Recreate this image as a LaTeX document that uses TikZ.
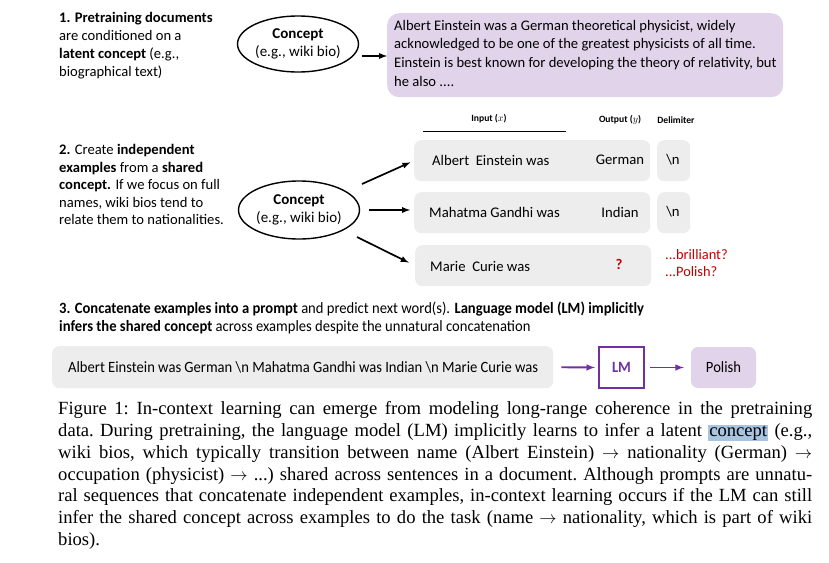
\documentclass[tikz,border=0pt]{standalone}
\usepackage{fontspec}
\setmainfont{Carlito}
\newfontfamily\narrowfont[FakeStretch=0.93]{Carlito}
\newfontfamily\capfont{Liberation Serif}
\usetikzlibrary{shapes.geometric}
\definecolor{lmpurple}{HTML}{7030A0}
\definecolor{biopurple}{HTML}{E1D3EA}
\definecolor{boxgray}{HTML}{EDEDED}
\definecolor{qred}{HTML}{C00000}
\definecolor{markblue}{HTML}{A8C4DF}

\begin{document}
\begin{tikzpicture}[x=1pt,y=-1pt,
	txt/.style={anchor=north west, inner sep=0, align=left, font=\fontsize{14.6}{18}\selectfont},
	concept/.style={draw, ellipse, line width=1.4pt, inner sep=0, align=center, font=\fontsize{15}{17.5}\selectfont},
	graybox/.style={fill=boxgray, rounded corners=7, anchor=north west, minimum height=41, inner sep=0},
	rowtxt/.style={inner sep=0, font=\fontsize{14.7}{17}\selectfont},
	head/.style={inner sep=0, font=\bfseries\fontsize{9.6}{11}\selectfont},
	arr/.style={-latex, line width=1.7pt},
	parr/.style={-latex, line width=1.9pt, draw=lmpurple, color=lmpurple},
	]
		\useasboundingbox (0,0) rectangle (829,562);
		
		% 1. pretraining documents
		\node[txt] (step1) at (59,12) {\textbf{1. Pretraining documents}\\ are conditioned on a\\ \textbf{latent concept} (e.g.,\\ biographical text)};
		\node[concept, minimum width=116, minimum height=56] (concept1) at (298,44) {\textbf{Concept}\\ (e.g., wiki bio)};
		\node[fill=biopurple, rounded corners=12, anchor=north west, minimum width=396, minimum height=84] (bio) at (387,13) {};
		\node[txt, font=\fontsize{14.6}{18.6}\selectfont] (biotxt) at (394,20) {Albert Einstein was a German theoretical physicist, widely\\ acknowledged to be one of the greatest physicists of all time.\\ Einstein is best known for developing the theory of relativity, but\\ he also ....};
		\coordinate (t1) at (362,56);
		\draw[arr] (t1) -- (bio.west |- t1);
		
		% 2. independent examples
		\node[txt, font=\fontsize{14.6}{17.6}\selectfont] (step2) at (59,144) {\textbf{2.} Create \textbf{independent}\\ \textbf{examples} from a \textbf{shared}\\ \textbf{concept.} If we focus on full\\ names, wiki bios tend to\\ relate them to nationalities.};
		\node[concept, minimum width=112, minimum height=58] (concept2) at (299,210) {\textbf{Concept}\\ (e.g., wiki bio)};
		
		\node[head] (inhead) at (489,119) {Input ($x$)};
		\node[head] (outhead) at (620,120) {Output ($y$)};
		\node[head] (delhead) at (676,120) {Delimiter};
		\draw[line width=0.6pt] (423,131) -- (566,131);
		
		\node[graybox, minimum width=236] (row1) at (414,140) {};
		\node[graybox, minimum width=236] (row2) at (414,192) {};
		\node[graybox, minimum width=236] (row3) at (415,245) {};
		\node[graybox, minimum width=33] (delim1) at (657,140) {};
		\node[graybox, minimum width=33] (delim2) at (657,192) {};
		
		\node[rowtxt, anchor=west] (in1) at (432,160) {Albert\ \ Einstein was};
		\node[rowtxt, anchor=west] (in2) at (429,212) {Mahatma Gandhi was};
		\node[rowtxt, anchor=west] (in3) at (430,266) {Marie\ \ Curie was};
		\node[rowtxt] (out1) at (620,160) {German};
		\node[rowtxt] (out2) at (620,212) {Indian};
		\node[rowtxt, text=qred, font=\bfseries\fontsize{14.7}{17}\selectfont] (out3) at (619,264) {?};
		\node[rowtxt] (nl1) at (673,160) {\textbackslash n};
		\node[rowtxt] (nl2) at (673,212) {\textbackslash n};
		\node[rowtxt, anchor=north west, align=left, text=qred, font=\fontsize{14.4}{17}\selectfont] (guess) at (665,249) {...brilliant?\\ ...Polish?};
		
		\coordinate (a1) at (362,184);
		\coordinate (a3) at (357,237);
		\draw[arr, shorten >=4pt] (a1) -- (row1.west);
		\draw[arr, shorten <=9pt, shorten >=4pt] (concept2.east) -- (row2.west |- concept2.east);
		\draw[arr, shorten >=7pt] (a3) -- (row3.west);
		
		% 3. prompt
		\node[txt, font=\narrowfont\fontsize{15.7}{18}\selectfont] (step3) at (59,302) {\textbf{3. Concatenate examples into a prompt} and predict next word(s). \textbf{Language model (LM) implicitly}\\ \textbf{infers the shared concept} across examples despite the unnatural concatenation};
		\node[graybox, minimum width=501, minimum height=42] (prompt) at (52,346) {};
		\node[rowtxt, anchor=west, font=\narrowfont\fontsize{15.7}{17}\selectfont] (prompttxt) at (68,367) {Albert Einstein was German \textbackslash n Mahatma Gandhi was Indian \textbackslash n Marie Curie was};
		\node[draw=lmpurple, line width=2pt, minimum width=45, minimum height=41, inner sep=0, text=lmpurple, font=\narrowfont\bfseries\fontsize{15.7}{17}\selectfont] (lm) at (621.5,367.5) {LM};
		\node[fill=biopurple, rounded corners=7, minimum width=65, minimum height=41, inner sep=0, font=\narrowfont\fontsize{15.7}{17}\selectfont] (polish) at (723.5,367.5) {Polish};
		\draw[parr, shorten <=8pt, shorten >=3pt] (prompt.east) -- (lm.west);
		\draw[parr, shorten <=5pt, shorten >=7pt] (lm.east) -- (polish.west);
		
		% caption
		\node[anchor=north west, inner sep=0, text width=754, align=justify, font=\capfont\fontsize{18.6}{21.9}\selectfont] (caption) at (58,401) {\frenchspacing Figure 1: In-context learning can emerge from modeling long-range coherence in the pretraining\linebreak data. During pretraining, the language model (LM) implicitly learns to infer a latent {\fboxsep=1pt\colorbox{markblue}{concept}} (e.g.,\linebreak wiki bios, which typically transition between name (Albert Einstein) $\rightarrow$ nationality (German) $\rightarrow$\linebreak occupation (physicist) $\rightarrow$ ...) shared across sentences in a document. Although prompts are unnatu-\linebreak ral sequences that concatenate independent examples, in-context learning occurs if the LM can still\linebreak infer the shared concept across examples to do the task (name $\rightarrow$ nationality, which is part of wiki\linebreak bios).};
	\end{tikzpicture}
\end{document}
